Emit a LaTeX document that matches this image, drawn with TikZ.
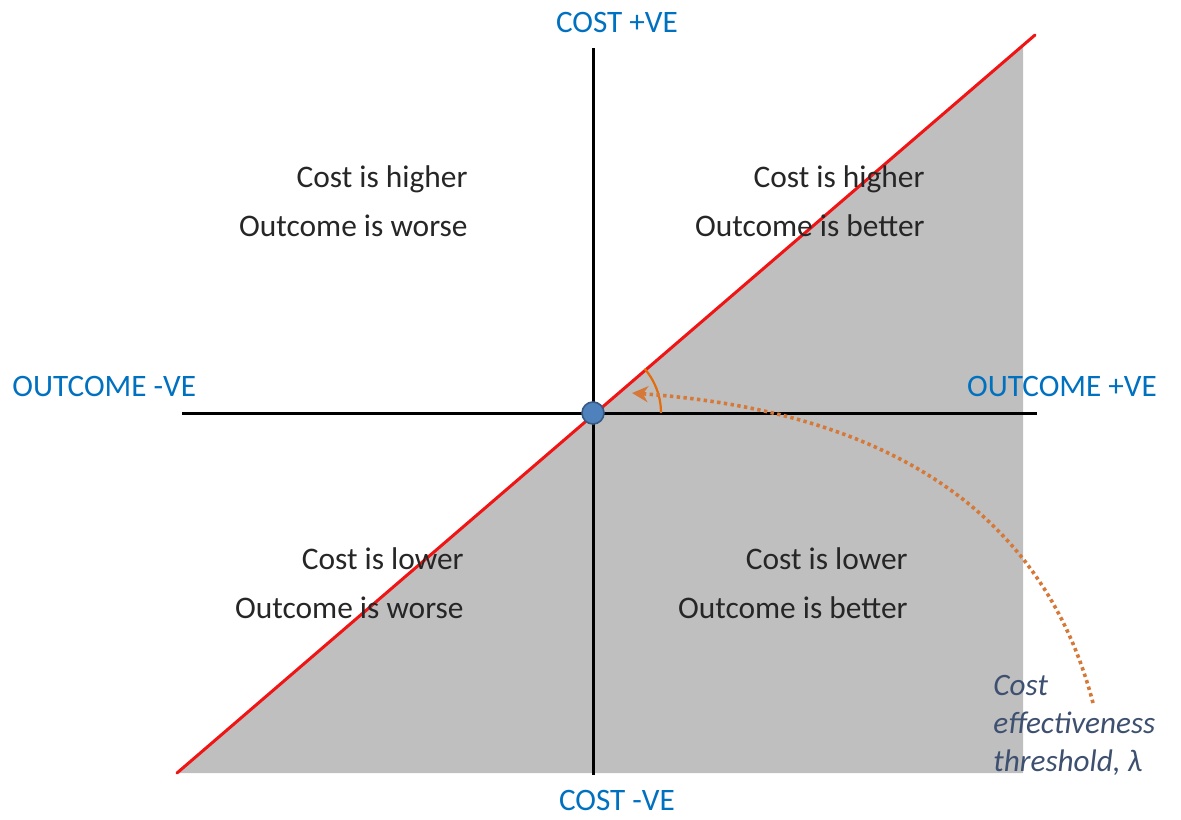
\documentclass[tikz,border=0pt]{standalone}
\usepackage{fontspec}
\setmainfont{Carlito}
\usetikzlibrary{arrows.meta}
\definecolor{axisblue}{RGB}{0,112,192}
\definecolor{shadegray}{RGB}{191,191,191}
\definecolor{iceline}{RGB}{240,20,20}
\definecolor{lamorange}{RGB}{228,108,10}
\definecolor{dotorange}{RGB}{214,120,56}
\definecolor{dotblue}{RGB}{79,129,189}
\definecolor{notegray}{RGB}{62,80,112}
\tikzset{
  >={Stealth[length=8pt, width=8pt, inset=2.5pt]},
  axis/.style={line width=1.5pt, black},
  axislabel/.style={text=axisblue, inner sep=0pt, font=\fontsize{15.6}{19}\selectfont},
  quadrant/.style={align=right, anchor=east, inner sep=0pt, text=black!85,
    font=\fontsize{15.7}{24.5}\selectfont},
  note/.style={align=left, anchor=west, inner sep=0pt, text=notegray,
    font=\fontsize{15.6}{19}\selectfont\itshape},
}

\begin{document}
\begin{tikzpicture}[x=0.5pt, y=-0.5pt]
  \useasboundingbox (0,0) rectangle (1181,819);

  % shaded region and threshold line
  \coordinate (ll) at (177,773);
  \coordinate (ur) at (1035,35);
  \fill[shadegray] (ll) -- (1023,44) -- (1023,773) -- cycle;

  % axes
  \coordinate (top) at (593,48);
  \coordinate (bottom) at (593,775);
  \coordinate (left) at (182,413);
  \coordinate (right) at (1037,413);
  \draw[axis] (top) -- (bottom);
  \draw[axis] (left) -- (right);
  \draw[iceline, line width=1.5pt, line cap=round] (ll) -- (ur);

  % axis labels
  \node[axislabel] (costpos) at (617,22) {COST +VE};
  \node[axislabel] (costneg) at (617,800) {COST -VE};
  \node[axislabel, anchor=west] (outneg) at (12,386) {OUTCOME -VE};
  \node[axislabel] (outpos) at (1062,386) {OUTCOME +VE};

  % quadrants
  \node[quadrant] (nw) at (468,201) {Cost is higher\\Outcome is worse};
  \node[quadrant] (ne) at (925,201) {Cost is higher\\Outcome is better};
  \node[quadrant] (sw) at (464,583) {Cost is lower\\Outcome is worse};
  \node[quadrant] (se) at (908,583) {Cost is lower\\Outcome is better};

  % threshold angle
  \draw[lamorange, line width=1.1pt] (593,413) ++(68,0) arc[start angle=0, end angle=-40.7, radius=68];
  \coordinate (lamtail) at (1093,703);
  \coordinate (lamtip) at (632,393);
  \draw[->, dotorange, line width=1.8pt, dash pattern=on 1.7pt off 1.7pt]
    (lamtail) .. controls (1035,480) and (840,408) .. (lamtip);
  \node[note] (lam) at (993,725) {Cost\\effectiveness\\threshold, λ};

  % origin
  \node[circle, fill=dotblue, draw=dotblue!70!black, line width=0.8pt,
    minimum size=11pt, inner sep=0pt] (origin) at (593,413) {};
\end{tikzpicture}
\end{document}
